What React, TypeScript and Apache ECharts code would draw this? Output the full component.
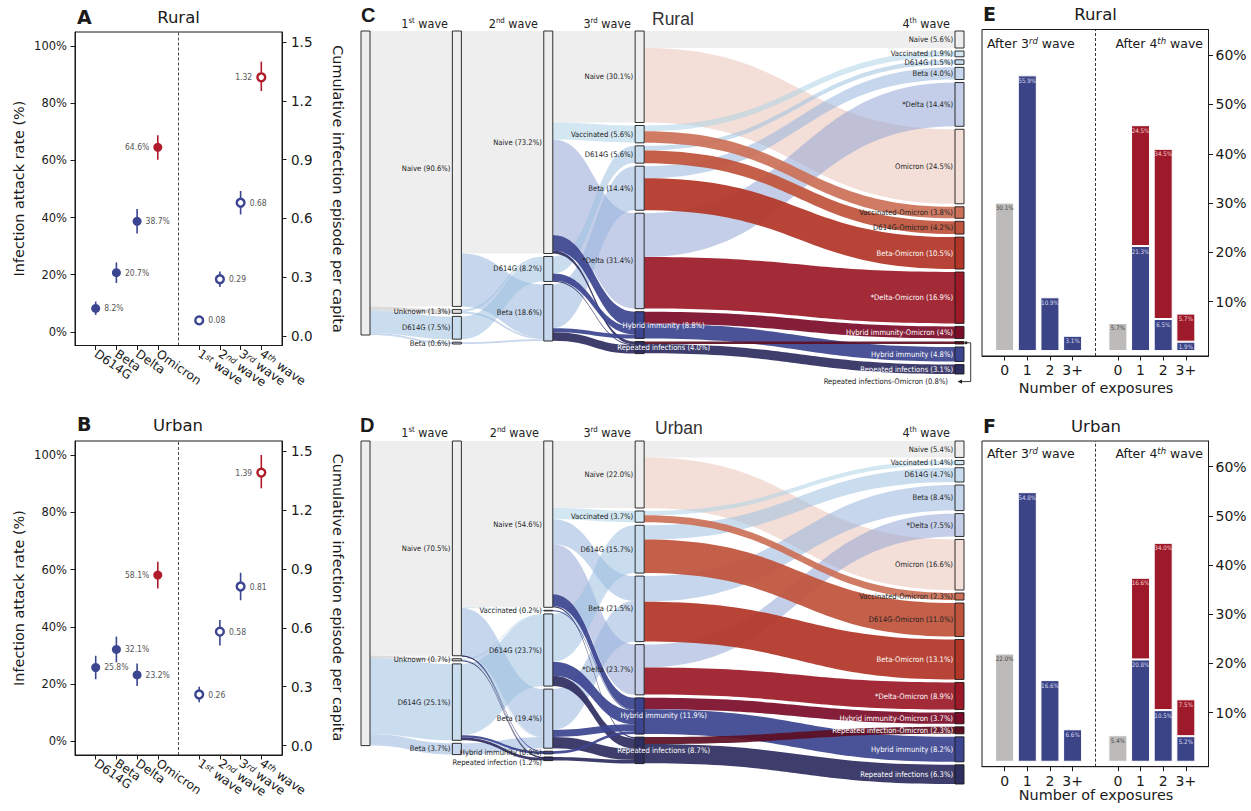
import { useEffect, useRef } from 'react';
import * as echarts from 'echarts';

// ---------------- Panels A & B : attack rate / cumulative episodes ----------------
const variantLabels = ['D614G', 'Beta', 'Delta', 'Omicron'];
const waveNumbers = ['1', '2', '3', '4'];
const waveSuffixes = ['st', 'nd', 'rd', 'th'];
const attackTicks = [0, 20, 40, 60, 80, 100];
const episodeTicks = [0, 0.3, 0.6, 0.9, 1.2, 1.5];

const ruralAttack = [8.2, 20.7, 38.7, 64.6];
const ruralAttackLow = [5.9, 17.1, 34.4, 60.3];
const ruralAttackHigh = [10.6, 24.3, 43.0, 68.8];
const ruralEpisodes = [0.08, 0.29, 0.68, 1.32];
const ruralEpisodesLow = [0.065, 0.25, 0.62, 1.25];
const ruralEpisodesHigh = [0.095, 0.33, 0.74, 1.4];

const urbanAttack = [25.8, 32.1, 23.2, 58.1];
const urbanAttackLow = [21.7, 27.6, 19.3, 53.4];
const urbanAttackHigh = [29.9, 36.6, 27.2, 62.8];
const urbanEpisodes = [0.26, 0.58, 0.81, 1.39];
const urbanEpisodesLow = [0.22, 0.51, 0.74, 1.31];
const urbanEpisodesHigh = [0.3, 0.64, 0.88, 1.48];

// ---------------- Panels E & F : number of exposures ----------------
const exposureLabels = ['0', '1', '2', '3+'];
const exposureTicks = [10, 20, 30, 40, 50, 60];
const ruralAfter3rd = [30.1, 55.9, 10.9, 3.1];
const ruralAfter4thNaive = 5.7;
const ruralAfter4thPreOmicron = [21.3, 6.5, 1.9];
const ruralAfter4thOmicron = [24.5, 34.5, 5.7];
const urbanAfter3rd = [22.0, 54.8, 16.6, 6.6];
const urbanAfter4thNaive = 5.4;
const urbanAfter4thPreOmicron = [20.8, 10.5, 5.2];
const urbanAfter4thOmicron = [16.6, 34.0, 7.5];

// ---------------- Panels C & D : sankey (node name, label percentage) ----------------
const ruralTotal = [['Total', '100']];
const ruralWave1 = [['Naive', '90.6'], ['Unknown', '1.3'], ['D614G', '7.5'], ['Beta', '0.6']];
const ruralWave2 = [['Naive', '73.2'], ['D614G', '8.2'], ['Beta', '18.6']];
const ruralWave3 = [['Naive', '30.1'], ['Vaccinated', '5.6'], ['D614G', '5.6'], ['Beta', '14.4'], ['*Delta', '31.4'], ['Hybrid immunity', '8.8'], ['Repeated infections', '4.0']];
const ruralWave4 = [['Naive', '5.6'], ['Vaccinated', '1.9'], ['D614G', '1.5'], ['Beta', '4.0'], ['*Delta', '14.4'], ['Omicron', '24.5'], ['Vaccinated-Omicron', '3.8'], ['D614G-Omicron', '4.2'], ['Beta-Omicron', '10.5'], ['*Delta-Omicron', '16.9'], ['Hybrid immunity-Omicron', '4'], ['Repeated infections-Omicron', '0.8'], ['Hybrid immunity', '4.8'], ['Repeated infections', '3.1']];

const ruralFlows0 = [['Total', 'Naive', 90.6], ['Total', 'Unknown', 1.3], ['Total', 'D614G', 7.5], ['Total', 'Beta', 0.6]];
const ruralFlows1 = [['Naive', 'Naive', 73.2], ['Naive', 'Beta', 17.4], ['Unknown', 'D614G', 0.7], ['Unknown', 'Beta', 0.6], ['D614G', 'D614G', 7.5], ['Beta', 'Beta', 0.6]];
const ruralFlows2 = [['Naive', 'Naive', 30.1], ['Naive', 'Vaccinated', 5.6], ['Naive', '*Delta', 31.4], ['Naive', 'Hybrid immunity', 5.1], ['Naive', 'Repeated infections', 1.0], ['D614G', 'D614G', 5.6], ['D614G', 'Hybrid immunity', 2.4], ['D614G', 'Repeated infections', 0.2], ['Beta', 'Beta', 14.4], ['Beta', 'Hybrid immunity', 1.3], ['Beta', 'Repeated infections', 2.8]];
const ruralFlows3 = [['Naive', 'Naive', 5.6], ['Naive', 'Omicron', 24.5], ['Vaccinated', 'Vaccinated', 1.9], ['Vaccinated', 'Vaccinated-Omicron', 3.8], ['D614G', 'D614G', 1.5], ['D614G', 'D614G-Omicron', 4.2], ['Beta', 'Beta', 4.0], ['Beta', 'Beta-Omicron', 10.5], ['*Delta', '*Delta', 14.4], ['*Delta', '*Delta-Omicron', 16.9], ['Hybrid immunity', 'Hybrid immunity-Omicron', 4.0], ['Hybrid immunity', 'Hybrid immunity', 4.8], ['Repeated infections', 'Repeated infections-Omicron', 0.8], ['Repeated infections', 'Repeated infections', 3.1]];

const urbanTotal = [['Total', '100']];
const urbanWave1 = [['Naive', '70.5'], ['Unknown', '0.7'], ['D614G', '25.1'], ['Beta', '3.7']];
const urbanWave2 = [['Naive', '54.6'], ['Vaccinated', '0.2'], ['D614G', '23.7'], ['Beta', '19.4'], ['Hybrid immunity', '0.9'], ['Repeated infection', '1.2']];
const urbanWave3 = [['Naive', '22.0'], ['Vaccinated', '3.7'], ['D614G', '15.7'], ['Beta', '21.5'], ['*Delta', '23.7'], ['Hybrid immunity', '11.9'], ['Repeated infections', '8.7']];
const urbanWave4 = [['Naive', '5.4'], ['Vaccinated', '1.4'], ['D614G', '4.7'], ['Beta', '8.4'], ['*Delta', '7.5'], ['Omicron', '16.6'], ['Vaccinated-Omicron', '2.3'], ['D614G-Omicron', '11.0'], ['Beta-Omicron', '13.1'], ['*Delta-Omicron', '8.9'], ['Hybrid immunity-Omicron', '3.7'], ['Repeated infection-Omicron', '2.3'], ['Hybrid immunity', '8.2'], ['Repeated infections', '6.3']];

const urbanFlows0 = [['Total', 'Naive', 70.5], ['Total', 'Unknown', 0.7], ['Total', 'D614G', 25.1], ['Total', 'Beta', 3.7]];
const urbanFlows1 = [['Naive', 'Naive', 54.6], ['Naive', 'Vaccinated', 0.2], ['Naive', 'Beta', 15.5], ['Naive', 'Hybrid immunity', 0.1], ['Naive', 'Repeated infection', 0.1], ['Unknown', 'D614G', 0.3], ['Unknown', 'Beta', 0.2], ['Unknown', 'Repeated infection', 0.2], ['D614G', 'D614G', 23.4], ['D614G', 'Hybrid immunity', 0.8], ['D614G', 'Repeated infection', 0.9], ['Beta', 'Beta', 3.7]];
const urbanFlows2 = [['Naive', 'Naive', 22.0], ['Naive', 'Vaccinated', 3.7], ['Naive', 'Beta', 8.1], ['Naive', '*Delta', 16.5], ['Naive', 'Hybrid immunity', 3.9], ['Naive', 'Repeated infections', 0.4], ['Vaccinated', 'Hybrid immunity', 0.2], ['D614G', 'D614G', 15.7], ['D614G', 'Hybrid immunity', 4.6], ['D614G', 'Repeated infections', 3.4], ['Beta', 'Beta', 13.4], ['Beta', 'Hybrid immunity', 2.3], ['Beta', 'Repeated infections', 3.7], ['Hybrid immunity', 'Hybrid immunity', 0.9], ['Repeated infection', 'Repeated infections', 1.2]];
const urbanFlows3 = [['Naive', 'Naive', 5.4], ['Naive', 'Omicron', 16.6], ['Vaccinated', 'Vaccinated', 1.4], ['Vaccinated', 'Vaccinated-Omicron', 2.3], ['D614G', 'D614G', 4.7], ['D614G', 'D614G-Omicron', 11.0], ['Beta', 'Beta', 8.4], ['Beta', 'Beta-Omicron', 13.1], ['*Delta', '*Delta', 7.5], ['*Delta', '*Delta-Omicron', 8.9], ['Hybrid immunity', 'Hybrid immunity-Omicron', 3.7], ['Hybrid immunity', 'Hybrid immunity', 8.2], ['Repeated infections', 'Repeated infection-Omicron', 2.3], ['Repeated infections', 'Repeated infections', 6.3]];

// ---------------- styles ----------------
const MPL = "'DejaVu Sans', Verdana, sans-serif";
const NARROW = "'DejaVu Sans Condensed', 'Liberation Sans Narrow', 'Roboto', sans-serif";
const HELV = "'Liberation Sans', Arial, sans-serif";
const INK = '#1a1a1a';
const BLUE = '#3b4590';
const RED = '#b01c2c';
const BAR_BLUE = '#3c4488';
const BAR_RED = '#9e1a2a';
const BAR_GRAY = '#bdbbb9';
const pointColors = [BLUE, BLUE, BLUE, RED];

const NODE_COLORS: Record<string, string> = {
  'Total': '#eeeeee',
  'Naive': '#eeeeee',
  'Unknown': '#dcdcdc',
  'Vaccinated': '#d2e7f1',
  'D614G': '#c9ddee',
  'Beta': '#c6d6ec',
  '*Delta': '#c4cee8',
  'Omicron': '#f3ded8',
  'Vaccinated-Omicron': '#cc7158',
  'D614G-Omicron': '#c0533b',
  'Beta-Omicron': '#b13627',
  '*Delta-Omicron': '#9c1a28',
  'Hybrid immunity-Omicron': '#7c0d29',
  'Repeated infections-Omicron': '#5e0f24',
  'Repeated infection-Omicron': '#5e0f24',
  'Hybrid immunity': '#3c4590',
  'Repeated infections': '#2f2e60',
  'Repeated infection': '#2f2e60',
};
const WHITE_LAST = new Set(['Beta-Omicron', '*Delta-Omicron', 'Hybrid immunity-Omicron', 'Repeated infection-Omicron', 'Hybrid immunity', 'Repeated infections']);
const SANKEY_DEPTHS = [0, 1, 2, 3, 6.5];

function rgbOf(h: string) {
  const n = parseInt(h.slice(1), 16);
  return [(n >> 16) & 255, (n >> 8) & 255, n & 255];
}
function isLight(name: string) {
  const [r, g, b] = rgbOf(NODE_COLORS[name]);
  return 0.3 * r + 0.59 * g + 0.11 * b > 170;
}
function linkColor(name: string) {
  const [r, g, b] = rgbOf(NODE_COLORS[name]);
  if (isLight(name)) {
    const a = 0.55;
    const f = (c: number) => Math.max(0, Math.round(255 - (255 - c) / a));
    return `rgba(${f(r)},${f(g)},${f(b)},${a})`;
  }
  return `rgba(${r},${g},${b},0.93)`;
}

function buildSankey(key: string, cols: any[][], flows: any[][], tweaks: Record<string, any>, box: any) {
  const nodes: any[] = [];
  cols.forEach((col, ci) => {
    col.forEach(([name, pct]) => {
      let label: any = { formatter: `${name} (${pct}%)` };
      if (ci === 0) label = { show: false };
      if (ci === 3 && (name === 'Hybrid immunity' || name === 'Repeated infections')) {
        label = { ...label, position: 'inside', offset: [24, 0], color: '#ffffff' };
      }
      if (ci === 4 && WHITE_LAST.has(name)) label = { ...label, color: '#ffffff' };
      if (tweaks[`${ci}:${name}`]) label = { ...label, ...tweaks[`${ci}:${name}`] };
      nodes.push({
        name: `${key}${ci}:${name}`,
        depth: SANKEY_DEPTHS[ci],
        itemStyle: { color: NODE_COLORS[name], borderColor: INK, borderWidth: 0.9 },
        label,
      });
    });
  });
  const edges: any[] = [];
  flows.forEach((set, li) => {
    set.forEach(([s, t, v]) => {
      edges.push({ source: `${key}${li}:${s}`, target: `${key}${li + 1}:${t}`, value: v, lineStyle: { color: linkColor(t) }, light: isLight(t) });
    });
  });
  edges.sort((a, b) => Number(b.light) - Number(a.light));
  edges.forEach((e) => delete e.light);
  return {
    type: 'sankey',
    ...box,
    nodeWidth: 9,
    nodeGap: 3,
    layoutIterations: 0,
    nodeAlign: 'left',
    draggable: false,
    emphasis: { disabled: true },
    label: { show: true, position: 'left', distance: 1.5, fontFamily: NARROW, fontSize: 7.6, color: '#222', textBorderWidth: 0 },
    lineStyle: { opacity: 1, curveness: 0.5 },
    data: nodes,
    links: edges,
  };
}

// ---------------- scatter panels ----------------
const xPosVariant = variantLabels.map((_, i) => i + 1);
const xPosWave = waveNumbers.map((_, i) => i + 6);
const xTickPos = [...xPosVariant, ...xPosWave];
const dividerPos = (xPosVariant[xPosVariant.length - 1] + xPosWave[0]) / 2;

function xLabel(v: number) {
  const vi = xPosVariant.indexOf(v);
  if (vi >= 0) return `{n|${variantLabels[vi]}}`;
  const wi = xPosWave.indexOf(v);
  if (wi >= 0) return `{n|${waveNumbers[wi]}}{s|${waveSuffixes[wi]}}{n| wave}`;
  return '';
}

const errBar = (_params: any, api: any) => {
  const x = api.value(0);
  const a = api.coord([x, api.value(1)]);
  const b = api.coord([x, api.value(2)]);
  return { type: 'line', shape: { x1: a[0], y1: a[1], x2: b[0], y2: b[1] }, style: { stroke: api.visual('color'), lineWidth: 1.6, opacity: 1 } };
};

function scatterAxes(gi: number) {
  const xAxis = {
    type: 'value', gridIndex: gi, min: 0, max: 10,
    axisLine: { show: true, onZero: false, lineStyle: { color: INK, width: 1 } },
    axisTick: { show: true, customValues: xTickPos, length: 4.5, lineStyle: { color: INK } },
    axisLabel: {
      customValues: xTickPos, rotate: -35, margin: 7, formatter: (v: number) => xLabel(v),
      rich: {
        n: { fontFamily: MPL, fontSize: 12.2, color: INK },
        s: { fontFamily: MPL, fontSize: 8.5, color: INK, fontStyle: 'italic', verticalAlign: 'top' },
      },
    },
    splitLine: { show: false },
  };
  const yLeft = {
    type: 'value', gridIndex: gi, position: 'left', min: -4.8, max: 105,
    axisLine: { show: true, lineStyle: { color: INK, width: 1 } },
    axisTick: { show: true, customValues: attackTicks, length: 4.5, lineStyle: { color: INK } },
    axisLabel: { customValues: attackTicks, formatter: (v: number) => `${v}%`, fontFamily: MPL, fontSize: 11.5, color: INK, margin: 8 },
    splitLine: { show: false },
  };
  const yRight = {
    type: 'value', gridIndex: gi, position: 'right', min: -0.048, max: 1.551,
    axisLine: { show: true, lineStyle: { color: INK, width: 1 } },
    axisTick: { show: true, customValues: episodeTicks, length: 4.5, lineStyle: { color: INK } },
    axisLabel: { customValues: episodeTicks, formatter: (v: number) => v.toFixed(1), fontFamily: MPL, fontSize: 13.5, color: INK, margin: 9 },
    splitLine: { show: false },
  };
  return { xAxis, yAxes: [yLeft, yRight] };
}

function scatterSeries(gi: number, attack: number[], aLow: number[], aHigh: number[], epi: number[], eLow: number[], eHigh: number[]) {
  const yL = gi * 2;
  const yR = gi * 2 + 1;
  const pointLabel = { show: true, fontFamily: NARROW, fontSize: 8.5, color: '#555', distance: 4 };
  return [
    {
      type: 'custom', xAxisIndex: gi, yAxisIndex: yL, renderItem: errBar, encode: { x: 0, y: [1, 2] }, z: 2, silent: true,
      data: attack.map((_, i) => ({ value: [xPosVariant[i], aLow[i], aHigh[i]], itemStyle: { color: pointColors[i] } })),
    },
    {
      type: 'custom', xAxisIndex: gi, yAxisIndex: yR, renderItem: errBar, encode: { x: 0, y: [1, 2] }, z: 2, silent: true,
      data: epi.map((_, i) => ({ value: [xPosWave[i], eLow[i], eHigh[i]], itemStyle: { color: pointColors[i] } })),
    },
    {
      type: 'scatter', xAxisIndex: gi, yAxisIndex: yL, symbolSize: 9, z: 3, silent: true,
      itemStyle: { opacity: 1 },
      label: { ...pointLabel, formatter: (p: any) => `${p.value[1].toFixed(1)}%` },
      data: attack.map((v, i) => ({ value: [xPosVariant[i], v], itemStyle: { color: pointColors[i], opacity: 1 }, label: { position: i === 3 ? 'left' : 'right' } })),
      markLine: {
        silent: true, symbol: ['none', 'none'], label: { show: false },
        lineStyle: { type: [3, 2], color: '#333', width: 0.9 }, data: [{ xAxis: dividerPos }],
      },
    },
    {
      type: 'scatter', xAxisIndex: gi, yAxisIndex: yR, symbolSize: 7.8, z: 3, silent: true,
      itemStyle: { opacity: 1 },
      label: { ...pointLabel, formatter: (p: any) => p.value[1].toFixed(2) },
      data: epi.map((v, i) => ({
        value: [xPosWave[i], v],
        itemStyle: { color: '#ffffff', borderColor: pointColors[i], borderWidth: 2.4, opacity: 1 },
        label: { position: i === 3 ? 'left' : 'right' },
      })),
    },
  ];
}

// ---------------- exposure bar panels ----------------
const slotLabels = ['', ...exposureLabels, '', ...exposureLabels, ''];
const slotKeys = slotLabels.map((_, i) => `slot${i}`);

function exposureAxes(gi: number) {
  const xAxis = {
    type: 'category', gridIndex: gi, data: slotKeys, boundaryGap: false,
    axisLine: { show: true, onZero: false, lineStyle: { color: INK, width: 1 } },
    axisTick: { show: true, interval: (i: number) => slotLabels[i] !== '', length: 4.5, lineStyle: { color: INK } },
    axisLabel: { interval: (i: number) => slotLabels[i] !== '', formatter: (_v: string, i: number) => slotLabels[i], fontFamily: MPL, fontSize: 14, color: INK, margin: 7 },
    splitLine: { show: false },
  };
  const yAxis = {
    type: 'value', gridIndex: gi, position: 'right', min: -1, max: 65.2,
    axisLine: { show: true, lineStyle: { color: INK, width: 1 } },
    axisTick: { show: true, customValues: exposureTicks, length: 4.5, lineStyle: { color: INK } },
    axisLabel: { customValues: exposureTicks, formatter: (v: number) => `${v}%`, fontFamily: MPL, fontSize: 14, color: INK, margin: 7 },
    splitLine: { show: false },
  };
  return { xAxis, yAxis };
}

function exposureSeries(gi: number, yi: number, after3: number[], naive4: number, pre4: number[], om4: number[]) {
  const n = slotLabels.length;
  const gray: any[] = Array(n).fill('-');
  const blue: any[] = Array(n).fill('-');
  const red: any[] = Array(n).fill('-');
  gray[1] = after3[0];
  gray[6] = naive4;
  after3.slice(1).forEach((v, i) => (blue[2 + i] = v));
  pre4.forEach((v, i) => (blue[7 + i] = v));
  om4.forEach((v, i) => (red[7 + i] = v));
  const base = (color: string, labelColor: string, data: any[]) => ({
    type: 'bar', xAxisIndex: gi, yAxisIndex: yi, stack: `s${gi}`, barWidth: 19, silent: true,
    itemStyle: { color, borderColor: '#ffffff', borderWidth: 1 },
    label: {
      show: true, position: 'insideTop', distance: 2, fontFamily: NARROW, fontSize: 6.2, color: labelColor, overflow: 'none',
      formatter: (p: any) => `${Number(p.value).toFixed(1)}%`,
    },
    data,
  });
  const g = base(BAR_GRAY, '#444444', gray);
  (g as any).markLine = {
    silent: true, symbol: ['none', 'none'], label: { show: false },
    lineStyle: { type: [3, 2], color: '#222', width: 0.9 }, data: [{ xAxis: 5 }],
  };
  return [g, base(BAR_BLUE, '#dcdcf0', blue), base(BAR_RED, '#f4cfd2', red)];
}

// ---------------- texts ----------------
function txt(x: number, y: number, text: string, o: any = {}) {
  return {
    type: 'text', x, y, rotation: o.rotation || 0, silent: true, z: 100,
    style: {
      text, align: o.align || 'left', verticalAlign: 'middle',
      fontFamily: o.font || MPL, fontSize: o.size || 12, fontWeight: o.weight || 'normal',
      fill: o.fill || INK, rich: o.rich,
    },
  };
}
const headerRich = {
  n: { fontFamily: NARROW, fontSize: 12.5, fill: '#222', color: '#222' },
  s: { fontFamily: NARROW, fontSize: 7.8, fill: '#222', color: '#222', verticalAlign: 'top' },
};
const afterRich = {
  a: { fontFamily: MPL, fontSize: 12.5, fill: INK, color: INK },
  s: { fontFamily: MPL, fontSize: 8.5, fontStyle: 'italic', fill: INK, color: INK, verticalAlign: 'top' },
};
function headers(y: number, xs: number[]) {
  return xs.map((x, i) => txt(x, y, `{n|${waveNumbers[i]}}{s|${waveSuffixes[i]}}{n| wave}`, { align: 'right', rich: headerRich }));
}

function buildOption() {
  const a = scatterAxes(0);
  const b = scatterAxes(1);
  const e = exposureAxes(2);
  const f = exposureAxes(3);
  const gridBase = { show: true, borderColor: INK, borderWidth: 1, backgroundColor: 'transparent', containLabel: false, outerBoundsMode: 'none' };
  const graphic = [
    txt(77, 17, 'A', { weight: 'bold', size: 19 }),
    txt(178.5, 17.5, 'Rural', { align: 'center', size: 16.5 }),
    txt(19, 188.5, 'Infection attack rate (%)', { align: 'center', size: 14.4, rotation: Math.PI / 2 }),
    txt(337.5, 189, 'Cumulative infection episode per capita', { align: 'center', size: 14.4, rotation: -Math.PI / 2 }),
    txt(77, 424, 'B', { weight: 'bold', size: 19 }),
    txt(178, 425.5, 'Urban', { align: 'center', size: 16.5 }),
    txt(19, 598, 'Infection attack rate (%)', { align: 'center', size: 14.4, rotation: Math.PI / 2 }),
    txt(337.5, 597.5, 'Cumulative infection episode per capita', { align: 'center', size: 14.4, rotation: -Math.PI / 2 }),
    txt(361, 15, 'C', { font: HELV, weight: 'bold', size: 20 }),
    txt(360, 425, 'D', { font: HELV, weight: 'bold', size: 20 }),
    ...headers(23, [448, 538, 631, 950]),
    ...headers(432, [448, 539, 631, 950]),
    txt(652, 18.5, 'Rural', { font: HELV, size: 17.5, fill: '#333' }),
    txt(655, 428, 'Urban', { font: HELV, size: 17.5, fill: '#333' }),
    txt(983, 13.7, 'E', { weight: 'bold', size: 19 }),
    txt(1095.5, 14.5, 'Rural', { align: 'center', size: 16.5 }),
    txt(983, 426, 'F', { weight: 'bold', size: 19 }),
    txt(1096, 426.7, 'Urban', { align: 'center', size: 16.5 }),
    txt(987, 43, '{a|After 3}{s|rd}{a| wave}', { rich: afterRich }),
    txt(1203, 43, '{a|After 4}{s|th}{a| wave}', { align: 'right', rich: afterRich }),
    txt(987, 453, '{a|After 3}{s|rd}{a| wave}', { rich: afterRich }),
    txt(1203, 453, '{a|After 4}{s|th}{a| wave}', { align: 'right', rich: afterRich }),
    txt(1096, 388, 'Number of exposures', { align: 'center', size: 14.4 }),
    txt(1096, 795, 'Number of exposures', { align: 'center', size: 14.4 }),
    {
      type: 'polyline', silent: true, z: 100,
      shape: { points: [[965.5, 342.8], [970.7, 342.8], [970.7, 381.6], [961, 381.6]] },
      style: { stroke: '#222', lineWidth: 0.9, fill: 'none' },
    },
    { type: 'polygon', silent: true, z: 100, shape: { points: [[957.5, 381.6], [962, 379.4], [962, 383.8]] }, style: { fill: '#222' } },
    { type: 'circle', silent: true, z: 100, shape: { cx: 966, cy: 342.8, r: 1.5 }, style: { fill: '#222' } },
  ];

  return {
    animation: false,
    backgroundColor: '#ffffff',
    grid: [
      { ...gridBase, left: 75, top: 32, width: 207, height: 313.5 },
      { ...gridBase, left: 75, top: 441, width: 207, height: 314 },
      { ...gridBase, left: 982, top: 29.5, width: 226.5, height: 326.5 },
      { ...gridBase, left: 982, top: 441, width: 226.5, height: 325.7 },
    ],
    xAxis: [a.xAxis, b.xAxis, e.xAxis, f.xAxis],
    yAxis: [...a.yAxes, ...b.yAxes, e.yAxis, f.yAxis],
    series: [
      ...scatterSeries(0, ruralAttack, ruralAttackLow, ruralAttackHigh, ruralEpisodes, ruralEpisodesLow, ruralEpisodesHigh),
      ...scatterSeries(1, urbanAttack, urbanAttackLow, urbanAttackHigh, urbanEpisodes, urbanEpisodesLow, urbanEpisodesHigh),
      ...exposureSeries(2, 4, ruralAfter3rd, ruralAfter4thNaive, ruralAfter4thPreOmicron, ruralAfter4thOmicron),
      ...exposureSeries(3, 5, urbanAfter3rd, urbanAfter4thNaive, urbanAfter4thPreOmicron, urbanAfter4thOmicron),
      buildSankey('r', [ruralTotal, ruralWave1, ruralWave2, ruralWave3, ruralWave4], [ruralFlows0, ruralFlows1, ruralFlows2, ruralFlows3],
        { '4:Repeated infections-Omicron': { offset: [-5, 39] } },
        { left: 361, top: 31, width: 603, height: 343 }),
      buildSankey('u', [urbanTotal, urbanWave1, urbanWave2, urbanWave3, urbanWave4], [urbanFlows0, urbanFlows1, urbanFlows2, urbanFlows3],
        { '2:Repeated infection': { offset: [0, 3.5] } },
        { left: 361, top: 441, width: 603, height: 343 }),
    ],
    graphic,
  };
}

export default function App() {
  const ref = useRef<HTMLDivElement>(null);
  useEffect(() => {
    document.body.style.margin = '0';
    const chart = echarts.init(ref.current as HTMLDivElement, null, { renderer: 'svg' });
    chart.setOption(buildOption() as any);
    return () => chart.dispose();
  }, []);
  return <div ref={ref} style={{ width: 1251, height: 811 }} />;
}
